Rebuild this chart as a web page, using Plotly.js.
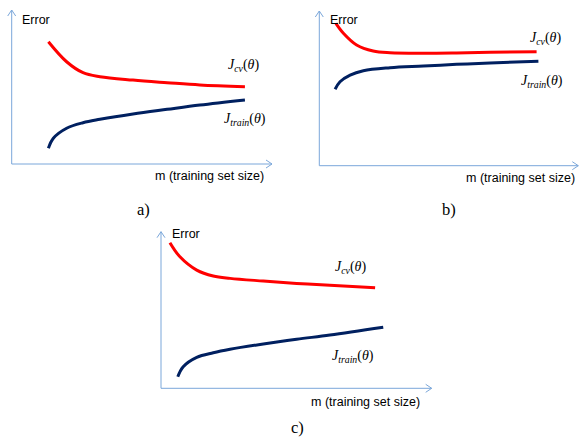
<!DOCTYPE html>
<html>
<head>
<meta charset="utf-8">
<script src="https://cdn.plot.ly/plotly-3.0.1.min.js"></script>
<style>
  html, body { margin: 0; padding: 0; background: #ffffff; }
  #chart { width: 580px; height: 438px; }
</style>
</head>
<body>
<div id="chart"></div>
<script>
// Learning curves: cross-validation error and training error vs. training set size

// Panel a)
const mCvA = [14.1, 21.1, 27.4, 33.9, 46.6, 59.7, 72.3, 89.6];
const cvA = [79.4, 66.4, 59.3, 56.7, 54.5, 52.8, 51.3, 50.2];
const mTrainA = [14.1, 16.0, 21.1, 27.4, 33.9, 46.6, 59.7, 72.3, 89.6];
const trainA = [10.2, 16.7, 23.2, 26.8, 29.0, 32.5, 35.5, 38.3, 41.6];

// Panel b)
const mCvB = [6.4, 9.3, 14.4, 20.8, 27.3, 40.2, 53.0, 65.9, 83.9];
const cvB = [92.0, 85.6, 78.0, 74.1, 73.0, 72.7, 72.9, 73.3, 73.7];
const mTrainB = [6.1, 8.0, 11.9, 17.0, 27.3, 40.2, 53.0, 65.9, 84.6];
const trainB = [49.4, 54.3, 58.6, 61.4, 63.3, 64.4, 65.5, 66.4, 67.5];

// Panel c)
const mCvC = [3.3, 7.0, 13.2, 19.3, 25.5, 37.8, 50.1, 62.4, 79.1];
const cvC = [93.0, 84.0, 75.5, 71.7, 70.2, 68.5, 67.0, 65.8, 64.2];
const mTrainC = [6.2, 8.2, 13.2, 19.3, 25.5, 37.8, 50.1, 62.4, 82.1];
const trainC = [7.4, 13.8, 19.8, 22.7, 24.9, 28.3, 31.3, 34.0, 39.0];

// Text
const yTitle = "Error";
const xTitle = "m (training set size)";
const panelNames = ["a)", "b)", "c)"];
const cvLabel = "<i>J</i><sub><i>cv</i></sub>(<i>θ</i>)";
const trainLabel = "<i>J</i><sub><i>train</i></sub>(<i>θ</i>)";

const W = 580, H = 438;
const RED = "#ff0000", NAVY = "#002060", AXIS = "#7ba7da";

// Panel frames in page pixels: left, right (arrow tip), top (arrow tip), bottom (x axis)
const frames = [
  { l: 11.7, r: 272.0, t: 10.0, b: 164.0 },
  { l: 319.3, r: 578.3, t: 11.0, b: 165.7 },
  { l: 161.0, r: 431.7, t: 231.7, b: 388.3 }
];

const px = x => x / W;
const py = y => 1 - y / H;

const series = [
  [mCvA, cvA, mTrainA, trainA],
  [mCvB, cvB, mTrainB, trainB],
  [mCvC, cvC, mTrainC, trainC]
];

const traces = [];
series.forEach((s, i) => {
  const xa = i === 0 ? "x" : "x" + (i + 1);
  const ya = i === 0 ? "y" : "y" + (i + 1);
  traces.push({ x: s[0], y: s[1], xaxis: xa, yaxis: ya, mode: "lines",
    line: { color: RED, width: 3, shape: "spline", smoothing: 1 }, hoverinfo: "skip" });
  traces.push({ x: s[2], y: s[3], xaxis: xa, yaxis: ya, mode: "lines",
    line: { color: NAVY, width: 3, shape: "spline", smoothing: 1 }, hoverinfo: "skip" });
});

const layout = {
  width: W, height: H,
  margin: { l: 0, r: 0, t: 0, b: 0, pad: 0 },
  paper_bgcolor: "#ffffff", plot_bgcolor: "rgba(0,0,0,0)",
  showlegend: false,
  shapes: [], annotations: []
};

frames.forEach((f, i) => {
  const sfx = i === 0 ? "" : String(i + 1);
  const common = { range: [0, 100], visible: false, fixedrange: true };
  layout["xaxis" + sfx] = Object.assign({}, common, {
    domain: [px(f.l), px(f.r)], anchor: "y" + sfx });
  layout["yaxis" + sfx] = Object.assign({}, common, {
    domain: [py(f.b), py(f.t)], anchor: "x" + sfx });

  // both axes drawn as arrows with open heads
  const ax = { type: "path", xref: "paper", yref: "paper", line: { color: AXIS, width: 1 } };
  layout.shapes.push(Object.assign({}, ax, {
    path: `M${px(f.l)},${py(f.b)} L${px(f.l)},${py(f.t)} M${px(f.l)},${py(f.b)} L${px(f.r)},${py(f.b)}` }));
  layout.shapes.push(Object.assign({}, ax, {
    path: `M${px(f.l - 4)},${py(f.t + 6)} L${px(f.l)},${py(f.t)} L${px(f.l + 4)},${py(f.t + 6)}` }));
  layout.shapes.push(Object.assign({}, ax, {
    path: `M${px(f.r - 6)},${py(f.b - 4)} L${px(f.r)},${py(f.b)} L${px(f.r - 6)},${py(f.b + 4)}` }));
});

const sans = { family: "Liberation Sans, Arial, sans-serif", size: 12.5, color: "#000000" };
const serif = { family: "Liberation Serif, Times New Roman, serif", size: 14, color: "#000000" };
const serifBig = { family: "Liberation Serif, Times New Roman, serif", size: 16.5, color: "#000000" };

function note(text, x, y, font, xanchor) {
  layout.annotations.push({ text, x: px(x), y: py(y), xref: "paper", yref: "paper",
    xanchor: xanchor || "left", yanchor: "middle", showarrow: false, font, borderpad: 0 });
}

// axis titles
note(yTitle, 21, 20, sans);
note(xTitle, 154, 176, sans);
note(yTitle, 329, 20, sans);
note(xTitle, 465, 178, sans);
note(yTitle, 171, 234, sans);
note(xTitle, 310, 402, sans);

// curve labels
note(cvLabel, 227, 66, serif);
note(trainLabel, 223, 119, serif);
note(cvLabel, 529, 38, serif);
note(trainLabel, 520, 82, serif);
note(cvLabel, 334, 267, serif);
note(trainLabel, 331, 356, serif);

// panel names
note(panelNames[0], 143, 209, serifBig, "center");
note(panelNames[1], 449, 209, serifBig, "center");
note(panelNames[2], 297, 427, serifBig, "center");

Plotly.newPlot("chart", traces, layout, { displayModeBar: false });
</script>
</body>
</html>
